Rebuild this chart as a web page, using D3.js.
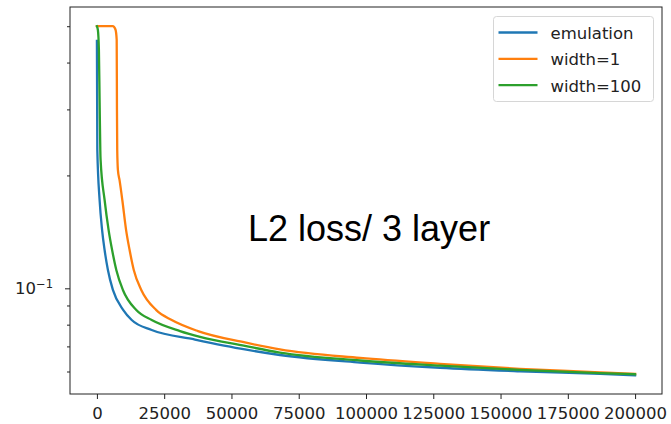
<!DOCTYPE html>
<html>
<head>
<meta charset="utf-8">
<script src="https://cdn.jsdelivr.net/npm/d3@7"></script>
<style>
  body { margin: 0; background: #fff; }
  svg { display: block; }
</style>
</head>
<body>
<div class="canvas"></div>
<script>
// Data
const emulationSteps = [0, 150, 1000, 1930, 2860, 4090, 5940, 9810, 12930, 20360, 36450, 55000, 68000, 97800, 127500, 157200, 187000, 200000];
const emulationLoss  = [0.457, 0.234, 0.172, 0.143, 0.1265, 0.1119, 0.099, 0.0875, 0.0823, 0.0774, 0.0730, 0.0687, 0.0664, 0.0634, 0.0614, 0.0601, 0.0591, 0.0586];

const width1Steps = [0, 5900, 6900, 7350, 7450, 7550, 7800, 8430, 9440, 10850, 12150, 13700, 16490, 22070, 27800, 37570, 55000, 68000, 97800, 127500, 157200, 187000, 200000];
const width1Loss  = [0.5, 0.5, 0.49, 0.46, 0.30, 0.234, 0.207, 0.194, 0.172, 0.143, 0.1265, 0.1119, 0.099, 0.0875, 0.0823, 0.0769, 0.0717, 0.0687, 0.0652, 0.0629, 0.0610, 0.0597, 0.0591];

const width100Steps = [0, 370, 740, 1000, 1260, 1370, 2860, 4350, 5650, 7210, 9660, 14640, 20360, 30880, 38310, 55000, 68000, 97800, 127500, 157200, 187000, 200000];
const width100Loss  = [0.5, 0.488, 0.432, 0.318, 0.234, 0.22, 0.172, 0.143, 0.1265, 0.1119, 0.099, 0.0875, 0.0823, 0.0769, 0.0742, 0.0702, 0.0674, 0.0642, 0.0622, 0.0606, 0.0594, 0.0590];

const seriesNames = ['emulation', 'width=1', 'width=100'];
const seriesColors = ['#1f77b4', '#ff7f0e', '#2ca02c'];

const xTicks = [0, 25000, 50000, 75000, 100000, 125000, 150000, 175000, 200000];
const yMajorTicks = [0.1];
const yMinorTicks = [0.06, 0.07, 0.08, 0.09, 0.2, 0.3, 0.4, 0.5];

const annotation = 'L2 loss/ 3 layer';

// Graph set up
const svgWidth = 671;
const svgHeight = 424;
const plot = {left: 70, right: 662, top: 7, bottom: 394};
const tickFont = 'DejaVu Sans, sans-serif';

const svg = d3.select('.canvas')
    .append('svg')
    .attr('width', svgWidth)
    .attr('height', svgHeight);

// Scales
const x = d3.scaleLinear().domain([-10000, 210000]).range([plot.left, plot.right]);
const y = d3.scaleLog().domain([0.05226, 0.5626]).range([plot.bottom, plot.top]);

svg.append('clipPath').attr('id', 'clip')
    .append('rect')
    .attr('x', plot.left).attr('y', plot.top)
    .attr('width', plot.right - plot.left)
    .attr('height', plot.bottom - plot.top);

// Lines
const series = [
    d3.zip(emulationSteps, emulationLoss),
    d3.zip(width1Steps, width1Loss),
    d3.zip(width100Steps, width100Loss)
];

const line = d3.line()
    .x(d => x(d[0]))
    .y(d => y(d[1]))
    .curve(d3.curveMonotoneX);

svg.append('g')
    .attr('clip-path', 'url(#clip)')
    .selectAll('path')
    .data(series)
    .enter()
    .append('path')
        .attr('fill', 'none')
        .attr('stroke', (d, i) => seriesColors[i])
        .attr('stroke-width', 2.3)
        .attr('stroke-linejoin', 'round')
        .attr('stroke-linecap', 'square')
        .attr('d', line);

// Axes
const xAxis = d3.axisBottom(x)
    .tickValues(xTicks)
    .tickSize(5)
    .tickSizeOuter(0)
    .tickPadding(8)
    .tickFormat(d3.format('d'));

const xAxisGroup = svg.append('g')
    .attr('transform', `translate(0,${plot.bottom})`)
    .call(xAxis);

const yMinorAxis = d3.axisLeft(y)
    .tickValues(yMinorTicks)
    .tickSize(3)
    .tickSizeOuter(0)
    .tickFormat('');

const yMajorAxis = d3.axisLeft(y)
    .tickValues(yMajorTicks)
    .tickSize(5)
    .tickSizeOuter(0)
    .tickPadding(12)
    .tickFormat('');

const yMinorGroup = svg.append('g')
    .attr('transform', `translate(${plot.left},0)`)
    .call(yMinorAxis);

const yMajorGroup = svg.append('g')
    .attr('transform', `translate(${plot.left},0)`)
    .call(yMajorAxis);

[xAxisGroup, yMinorGroup, yMajorGroup].forEach(g => {
    g.select('.domain').remove();
    g.selectAll('line').attr('stroke', '#222').attr('stroke-width', 1);
    g.selectAll('text')
        .attr('fill', '#222')
        .style('font-family', tickFont)
        .style('font-size', '16.5px');
});

// 10^-1 label
yMajorGroup.selectAll('text')
    .attr('dy', '0.32em')
    .each(function(d) {
        const t = d3.select(this);
        const exp = Math.round(Math.log10(d));
        t.text('10');
        t.append('tspan')
            .attr('dy', -6)
            .style('font-size', '11.5px')
            .text('\u2212' + Math.abs(exp));
    });

// Spines
svg.append('rect')
    .attr('x', plot.left)
    .attr('y', plot.top)
    .attr('width', plot.right - plot.left)
    .attr('height', plot.bottom - plot.top)
    .attr('fill', 'none')
    .attr('stroke', '#222')
    .attr('stroke-width', 1);

// Legend
const legend = svg.append('g')
    .attr('transform', 'translate(493.5,16.5)');

legend.append('rect')
    .attr('width', 160)
    .attr('height', 85)
    .attr('rx', 3)
    .attr('fill', '#fff')
    .attr('fill-opacity', 0.8)
    .attr('stroke', '#d6d6d6')
    .attr('stroke-width', 1);

const items = legend.selectAll('.item')
    .data(seriesNames)
    .enter()
    .append('g')
        .attr('class', 'item')
        .attr('transform', (d, i) => `translate(0,${16 + i * 26.3})`);

items.append('line')
    .attr('x1', 5).attr('x2', 44)
    .attr('stroke', (d, i) => seriesColors[i])
    .attr('stroke-width', 2.3);

items.append('text')
    .attr('x', 57)
    .attr('y', 6.5)
    .attr('fill', '#222')
    .style('font-family', tickFont)
    .style('font-size', '16.5px')
    .text(d => d);

// Annotation
svg.append('text')
    .attr('x', 248)
    .attr('y', 241)
    .attr('fill', '#000')
    .style('font-family', 'Liberation Sans, Arial, sans-serif')
    .style('font-size', '36px')
    .text(annotation);
</script>
</body>
</html>
